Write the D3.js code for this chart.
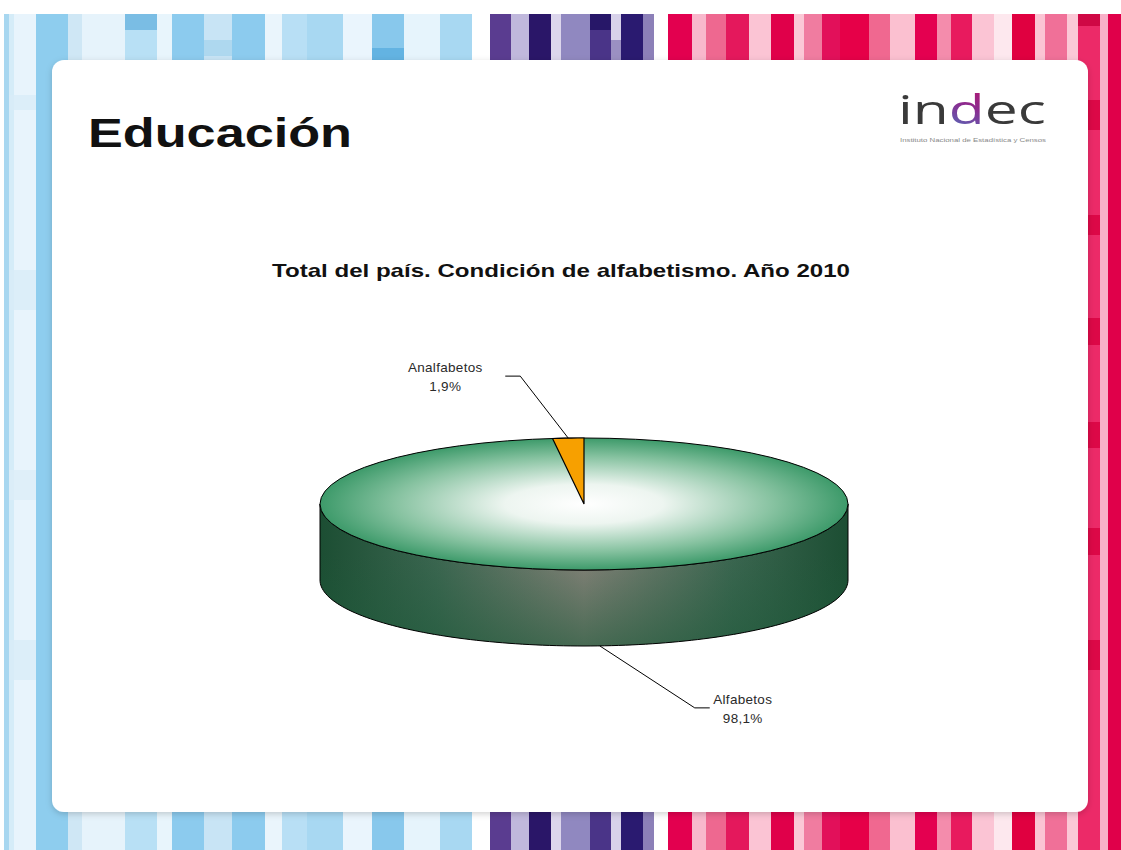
<!DOCTYPE html>
<html>
<head>
<meta charset="utf-8">
<script src="https://cdn.jsdelivr.net/npm/d3@7/dist/d3.min.js"></script>
<style>
  body { margin: 0; background: #fff; }
  svg { display: block; }
</style>
</head>
<body>
<svg id="canvas" width="1121" height="850"></svg>
<script>
// chart data
let categories = ["Alfabetos", "Analfabetos"];
let values = [98.1, 1.9];
let sliceColors = ["#3d9a6a", "#f7a000"];

let pageTitle = "Educación";
let chartTitle = "Total del país. Condición de alfabetismo. Año 2010";

// decorative stripes of the slide frame: [x0, x1, colour]
let stripes = [
  [4, 9, "#a8d7f0"], [9, 14, "#d5ecf8"], [14, 36, "#e8f4fc"], [36, 68, "#8ecdee"],
  [68, 82, "#cfe7f5"], [82, 125, "#e6f3fb"], [125, 157, "#b8e0f5"], [157, 172, "#e8f5fc"],
  [172, 204, "#8ccbee"], [204, 232, "#c8e4f5"], [232, 265, "#8ccbee"], [265, 282, "#eaf5fc"],
  [282, 307, "#b8dff5"], [307, 343, "#a8d8f2"], [343, 372, "#eaf5fd"], [372, 404, "#88c8ec"],
  [404, 440, "#e6f4fc"], [440, 472, "#a8d8f2"],
  [490, 511, "#5a3c90"], [511, 529, "#c0b8dc"], [529, 551, "#2a1668"], [551, 561, "#dcd6ec"],
  [561, 590, "#9088c0"], [590, 611, "#4a3488"], [611, 621, "#d8d2ea"], [621, 643, "#2a1a70"],
  [643, 654, "#8c80b8"],
  [668, 692, "#e3004f"], [692, 706, "#f8b8cc"], [706, 726, "#ee6890"], [726, 749, "#e4185c"],
  [749, 771, "#fbc4d4"], [771, 794, "#e0004a"], [794, 804, "#fbc8d6"], [804, 822, "#f07ca0"],
  [822, 840, "#e2105a"], [840, 869, "#e60048"], [869, 890, "#f06890"], [890, 915, "#fbc0d0"],
  [915, 937, "#e40050"], [937, 951, "#f48cac"], [951, 972, "#e81a5e"], [972, 994, "#fbc4d4"],
  [994, 1012, "#fde8ee"], [1012, 1035, "#e00040"], [1035, 1045, "#fbc4d4"], [1045, 1067, "#f07098"],
  [1067, 1078, "#fbc8d6"], [1078, 1100, "#ec2a68"], [1100, 1108, "#f8b0c8"], [1108, 1121, "#e0004a"]
];
// darker blocks inside some stripes: [x0, x1, y0, y1, colour]
let blocks = [
  [125, 157, 14, 30, "#6ab4e0"], [204, 232, 40, 56, "#a8d4ee"], [372, 404, 48, 60, "#5aaee0"],
  [590, 611, 14, 30, "#1e1060"], [611, 621, 40, 60, "#8c80b8"], [1078, 1100, 14, 26, "#c8003c"],
  [1078, 1100, 100, 130, "#d8003e"], [1078, 1100, 215, 235, "#d8003e"], [1078, 1100, 318, 345, "#d8003e"],
  [1078, 1100, 422, 448, "#d8003e"], [1078, 1100, 528, 555, "#d8003e"], [1078, 1100, 640, 670, "#d8003e"],
  [9, 36, 95, 110, "#d8ecf7"], [9, 36, 270, 310, "#d8ecf7"], [9, 36, 470, 500, "#dcedf7"],
  [9, 36, 640, 680, "#d8ecf7"]
];

let width = 1121, height = 850;
let svg = d3.select("#canvas");
let defs = svg.append("defs");

// ---- frame ----
svg.selectAll("rect.stripe")
  .data(stripes)
  .enter()
  .append("rect")
  .attr("class", "stripe")
  .attr("x", (d) => d[0])
  .attr("width", (d) => d[1] - d[0])
  .attr("y", 14)
  .attr("height", height - 14)
  .attr("fill", (d) => d[2]);

svg.selectAll("rect.block")
  .data(blocks)
  .enter()
  .append("rect")
  .attr("class", "block")
  .attr("x", (d) => d[0])
  .attr("width", (d) => d[1] - d[0])
  .attr("y", (d) => d[2])
  .attr("height", (d) => d[3] - d[2])
  .attr("fill", (d) => d[4])
  .attr("opacity", 0.8);

let shadow = defs.append("filter").attr("id", "shadow")
  .attr("x", "-5%").attr("y", "-5%").attr("width", "110%").attr("height", "110%");
shadow.append("feGaussianBlur").attr("in", "SourceAlpha").attr("stdDeviation", 3);
shadow.append("feOffset").attr("dx", 0).attr("dy", 2).attr("result", "blur");
shadow.append("feFlood").attr("flood-color", "#000").attr("flood-opacity", 0.18);
shadow.append("feComposite").attr("in2", "blur").attr("operator", "in");
let merge = shadow.append("feMerge");
merge.append("feMergeNode");
merge.append("feMergeNode").attr("in", "SourceGraphic");

svg.append("rect")
  .attr("x", 52).attr("y", 60)
  .attr("width", 1036).attr("height", 752)
  .attr("rx", 12)
  .attr("fill", "#fff")
  .attr("filter", "url(#shadow)");

// ---- headings ----
svg.append("text")
  .attr("x", 88).attr("y", 147)
  .attr("font-family", "'Liberation Sans', Arial, sans-serif")
  .attr("font-weight", "bold")
  .attr("font-size", 40)
  .attr("textLength", 264)
  .attr("lengthAdjust", "spacingAndGlyphs")
  .attr("fill", "#111")
  .text(pageTitle);

svg.append("text")
  .attr("x", 561).attr("y", 277)
  .attr("text-anchor", "middle")
  .attr("font-family", "'Liberation Sans', Arial, sans-serif")
  .attr("font-weight", "bold")
  .attr("font-size", 19)
  .attr("textLength", 578)
  .attr("lengthAdjust", "spacingAndGlyphs")
  .attr("fill", "#111")
  .text(chartTitle);

// ---- indec logo ----
let dGrad = defs.append("linearGradient").attr("id", "logoD")
  .attr("x1", 0).attr("y1", 1).attr("x2", 1).attr("y2", 0);
dGrad.append("stop").attr("offset", 0).attr("stop-color", "#1fa8e0");
dGrad.append("stop").attr("offset", 0.5).attr("stop-color", "#8a2c90");
dGrad.append("stop").attr("offset", 1).attr("stop-color", "#e4004a");

let logo = svg.append("text")
  .attr("x", 898).attr("y", 124)
  .attr("font-family", "'Open Sans', 'DejaVu Sans', sans-serif")
  .attr("font-weight", 400)
  .attr("font-size", 40)
  .attr("textLength", 148)
  .attr("lengthAdjust", "spacingAndGlyphs")
  .attr("fill", "#3a3a3a");
logo.append("tspan").text("in");
logo.append("tspan").attr("fill", "url(#logoD)").text("d");
logo.append("tspan").text("ec");

svg.append("text")
  .attr("x", 900).attr("y", 142)
  .attr("font-family", "'Liberation Sans', Arial, sans-serif")
  .attr("font-size", 5)
  .attr("textLength", 146)
  .attr("lengthAdjust", "spacingAndGlyphs")
  .attr("fill", "#888")
  .text("Instituto Nacional de Estadística y Censos");

// ---- 3D pie ----
let cx = 584, cy = 504, rx = 264, ry = 66, depth = 76;

let pie = d3.pie().sort(null).startAngle(0).endAngle(2 * Math.PI);
let arcs = pie(values);

// angle -> projected point on the top ellipse (0 = 12 o'clock, clockwise)
let px = (a) => cx + rx * Math.sin(a);
let py = (a, dz = 0) => cy - ry * Math.cos(a) + dz;

let arcPoints = (a0, a1, dz = 0) => {
  let n = Math.max(2, Math.ceil(((a1 - a0) / (2 * Math.PI)) * 240));
  return d3.range(n + 1).map((i) => {
    let a = a0 + ((a1 - a0) * i) / n;
    return [px(a), py(a, dz)];
  });
};

let line = d3.line();

let topGrad = defs.append("radialGradient").attr("id", "topGrad")
  .attr("cx", 0.5).attr("cy", 0.5).attr("r", 0.5);
topGrad.append("stop").attr("offset", 0).attr("stop-color", "#ffffff");
topGrad.append("stop").attr("offset", 0.3).attr("stop-color", "#edf5f0");
topGrad.append("stop").attr("offset", 0.72).attr("stop-color", "#86c2a0");
topGrad.append("stop").attr("offset", 1).attr("stop-color", sliceColors[0]);

let sideGrad = defs.append("linearGradient").attr("id", "sideGrad")
  .attr("x1", 0).attr("y1", 0).attr("x2", 1).attr("y2", 0);
sideGrad.append("stop").attr("offset", 0).attr("stop-color", "#1c4e33");
sideGrad.append("stop").attr("offset", 0.22).attr("stop-color", "#3b6650");
sideGrad.append("stop").attr("offset", 0.5).attr("stop-color", "#868279");
sideGrad.append("stop").attr("offset", 0.78).attr("stop-color", "#3b6650");
sideGrad.append("stop").attr("offset", 1).attr("stop-color", "#1c4e33");

let sideShade = defs.append("linearGradient").attr("id", "sideShade")
  .attr("x1", 0).attr("y1", 0).attr("x2", 0).attr("y2", 1);
sideShade.append("stop").attr("offset", 0.35).attr("stop-color", "#1e5a3a").attr("stop-opacity", 0);
sideShade.append("stop").attr("offset", 1).attr("stop-color", "#1e5a3a").attr("stop-opacity", 0.6);

let fills = ["url(#topGrad)", sliceColors[1]];
let sideFills = ["url(#sideGrad)", "#a86a00"];

// side walls: only the front half (pi/2 .. 3pi/2) is visible
arcs.forEach((d, i) => {
  let a0 = Math.max(d.startAngle, Math.PI / 2);
  let a1 = Math.min(d.endAngle, (3 * Math.PI) / 2);
  if (a1 <= a0) return;
  let upper = arcPoints(a0, a1);
  let lower = arcPoints(a0, a1, depth).reverse();
  let wall = line(upper.concat(lower)) + "Z";
  svg.append("path")
    .attr("d", wall)
    .attr("fill", sideFills[i]);
  svg.append("path")
    .attr("d", wall)
    .attr("fill", "url(#sideShade)")
    .attr("stroke", "#000")
    .attr("stroke-width", 1);
});

// top faces; the big slice is filled as the full ellipse so the gradient is centred
svg.append("ellipse")
  .attr("cx", cx).attr("cy", cy)
  .attr("rx", rx).attr("ry", ry)
  .attr("fill", fills[0])
  .attr("stroke", "#000")
  .attr("stroke-width", 1);

arcs.forEach((d, i) => {
  if (i === 0) return;
  let pts = [[cx, cy]].concat(arcPoints(d.startAngle, d.endAngle));
  svg.append("path")
    .attr("d", line(pts) + "Z")
    .attr("fill", fills[i])
    .attr("stroke", "#000")
    .attr("stroke-width", 1.2);
});

// ---- labels with leader lines ----
let fmt = d3.formatLocale({ decimal: ",", thousands: ".", grouping: [3], currency: ["$", ""] }).format(".1f");

arcs.forEach((d, i) => {
  let mid = (d.startAngle + d.endAngle) / 2;
  let front = Math.cos(mid) < 0;
  let anchor = [px(mid), py(mid, front ? depth : 0)];
  let elbow = front ? [anchor[0] + 95, anchor[1] + 62] : [anchor[0] - 48, anchor[1] - 62];
  let end = [elbow[0] + (front ? 15 : -15), elbow[1]];
  svg.append("path")
    .attr("d", line([anchor, elbow, end]))
    .attr("fill", "none")
    .attr("stroke", "#000")
    .attr("stroke-width", 1);

  let tx = front ? end[0] + 33 : end[0] - 60;
  let ty = front ? end[1] - 4 : end[1] - 4;
  let g = svg.append("text")
    .attr("text-anchor", "middle")
    .attr("font-family", "'Liberation Sans', Arial, sans-serif")
    .attr("font-size", 13.5)
    .attr("letter-spacing", 0.3)
    .attr("fill", "#2a2a2a");
  g.append("tspan").attr("x", tx).attr("y", ty).text(categories[i]);
  g.append("tspan").attr("x", tx).attr("y", ty + 19).text(fmt(values[i]) + "%");
});
</script>
</body>
</html>
